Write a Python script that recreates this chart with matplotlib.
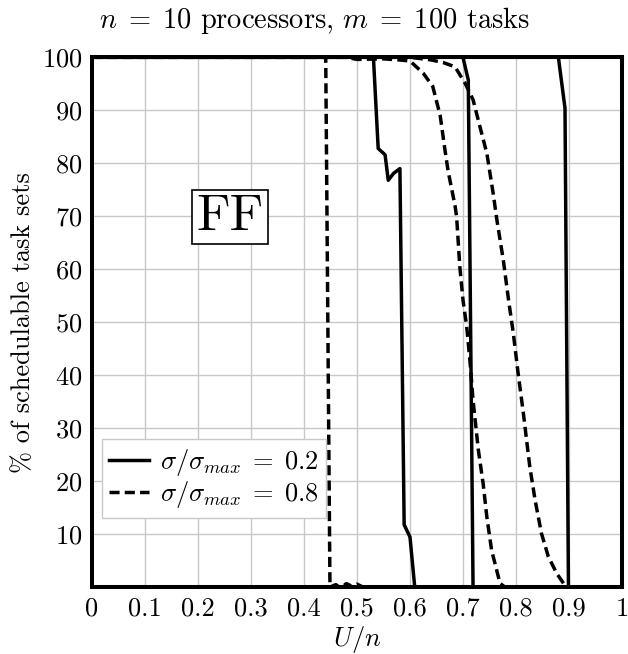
import matplotlib
matplotlib.use("Agg")
import matplotlib.pyplot as plt

plt.rcParams["font.family"] = "serif"
plt.rcParams["font.serif"] = ["cmr10"]
plt.rcParams["mathtext.fontset"] = "cm"
plt.rcParams["axes.formatter.use_mathtext"] = True

# sigma/sigma_max = 0.2 (solid)
u_s1 = [0, 0.531, 0.540, 0.553, 0.559, 0.569, 0.581, 0.589, 0.600, 0.609, 1]
p_s1 = [100, 100, 82.8, 81.6, 76.8, 78.1, 79.0, 11.8, 9.5, 0, 0]
u_s2 = [0, 0.700, 0.710, 0.719, 1]
p_s2 = [100, 100, 95.7, 0, 0]
u_s3 = [0, 0.880, 0.8925, 0.899, 1]
p_s3 = [100, 100, 90.4, 0, 0]

# sigma/sigma_max = 0.8 (dashed)
u_d1 = [0, 0.441, 0.449, 0.455, 0.46, 0.465, 0.47, 0.475, 0.48, 0.49, 0.50, 0.51, 0.52, 1]
p_d1 = [100, 100, 0, 0.3, 0.5, 0.2, 0.6, 0.3, 0.7, 0.2, 0.6, 0.1, 0, 0]
u_d2 = [0, 0.48, 0.50, 0.55, 0.58, 0.60, 0.625, 0.643, 0.657, 0.666, 0.672, 0.685,
        0.688, 0.694, 0.700, 0.707, 0.713, 0.719, 0.729, 0.738, 0.745, 0.754, 0.770, 0.78, 1]
p_d2 = [100, 100, 99.6, 99.7, 99.5, 99.3, 97.0, 94.5, 89.0, 82.5, 78.5, 72.0,
        69.9, 60.5, 54.2, 49.2, 42.9, 35.3, 25.9, 19.6, 13.3, 7.0, 0.7, 0, 0]
u_d3 = [0, 0.60, 0.64, 0.663, 0.685, 0.704, 0.719, 0.732, 0.745, 0.757, 0.764, 0.776,
        0.786, 0.795, 0.804, 0.814, 0.826, 0.836, 0.848, 0.861, 0.877, 0.892, 0.90, 1]
p_d3 = [100, 100, 99.5, 99.0, 98.2, 95.1, 92.0, 86.9, 81.9, 74.3, 69.3, 61.8,
        54.2, 47.9, 40.4, 32.8, 22.8, 16.5, 10.2, 5.8, 2.6, 0.4, 0, 0]

xticks = [0, 0.1, 0.2, 0.3, 0.4, 0.5, 0.6, 0.7, 0.8, 0.9, 1]
xlabels = ["0", "0.1", "0.2", "0.3", "0.4", "0.5", "0.6", "0.7", "0.8", "0.9", "1"]
yticks = [10, 20, 30, 40, 50, 60, 70, 80, 90, 100]

fs = 19
fig = plt.figure(figsize=(6.28, 6.54), dpi=100)
ax = fig.add_axes([0.1465, 0.102, 0.8439, 0.8104])

lw = 2.5
dash = (0, (2.9, 1.5))
ax.plot(u_s1, p_s1, color="black", lw=lw, label=r"$\sigma/\sigma_{max}\;=\;0.2$")
ax.plot(u_s2, p_s2, color="black", lw=lw)
ax.plot(u_s3, p_s3, color="black", lw=lw)
ax.plot(u_d1, p_d1, color="black", lw=lw, linestyle=dash, label=r"$\sigma/\sigma_{max}\;=\;0.8$")
ax.plot(u_d2, p_d2, color="black", lw=lw, linestyle=dash)
ax.plot(u_d3, p_d3, color="black", lw=lw, linestyle=dash)

ax.set_xlim(0, 1)
ax.set_ylim(0, 100)
ax.set_xticks(xticks)
ax.set_xticklabels(xlabels)
ax.set_yticks(yticks)
ax.tick_params(length=0, labelsize=fs, pad=7)
ax.grid(True, color="#c8c8c8", lw=1.0)
ax.set_axisbelow(True)
for s in ax.spines.values():
    s.set_linewidth(2.9)

fig.text(0.5, 0.957, r"$n\;=\;10$ processors, $m\;=\;100$ tasks", fontsize=20.5,
         ha="center", va="baseline")
ax.set_xlabel(r"$U/n$", fontsize=fs, labelpad=2)
ax.set_ylabel("% of schedulable task sets", fontsize=fs, labelpad=5)

ax.text(0.26, 69.9, "FF", fontsize=37, ha="center", va="center",
        bbox=dict(boxstyle="square,pad=0.08", fc="white", ec="black", lw=1.2))

leg = ax.legend(loc="lower left", bbox_to_anchor=(0.018, 0.13), borderaxespad=0,
                fontsize=fs, fancybox=False, framealpha=1, edgecolor="#c8c8c8",
                handlelength=1.5, handletextpad=0.4, borderpad=0.3, labelspacing=0.05)
leg.get_frame().set_linewidth(1.0)

fig.savefig("out.png", dpi=100)
